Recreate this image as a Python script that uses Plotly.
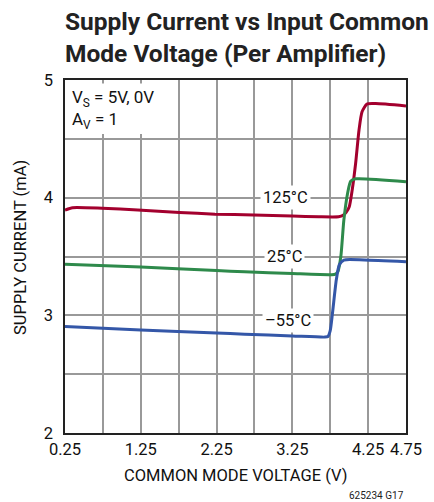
import plotly.graph_objects as go

# Data
red_x = [0.25, 0.35, 0.74, 1.21, 1.76, 2.23, 2.74, 3.25, 3.6, 3.86, 3.92, 3.96, 4.0, 4.04, 4.085, 4.13, 4.17, 4.235, 4.35, 4.75]
red_y = [3.895, 3.915, 3.91, 3.895, 3.875, 3.86, 3.853, 3.844, 3.838, 3.838, 3.85, 3.875, 3.92, 4.065, 4.29, 4.575, 4.73, 4.796, 4.80, 4.78]

green_x = [0.25, 1.25, 2.25, 2.62, 3.25, 3.77, 3.82, 3.85, 3.89, 3.93, 3.98, 4.02, 4.085, 4.75]
green_y = [3.435, 3.41, 3.38, 3.37, 3.355, 3.345, 3.35, 3.37, 3.50, 3.81, 4.04, 4.14, 4.16, 4.136]

blue_x = [0.25, 1.25, 2.25, 2.62, 3.25, 3.68, 3.72, 3.75, 3.78, 3.83, 3.87, 3.93, 4.2, 4.75]
blue_y = [2.905, 2.875, 2.85, 2.84, 2.825, 2.815, 2.82, 2.87, 3.02, 3.30, 3.43, 3.47, 3.47, 3.456]

series_names = ["125°C", "25°C", "–55°C"]
series_colors = ["#A3002E", "#2E8A4B", "#3457A8"]

x_tickvals = [0.25, 0.75, 1.25, 1.75, 2.25, 2.75, 3.25, 3.75, 4.25, 4.75]
x_ticktext = ["0.25", "", "1.25", "", "2.25", "", "3.25", "", "4.25", "4.75"]
y_tickvals = [2, 2.5, 3, 3.5, 4, 4.5, 5]
y_ticktext = ["2", "", "3", "", "4", "", "5"]

FONT = "Roboto, Liberation Sans, sans-serif"
TXT = "#111"

fig = go.Figure()
for xs, ys, name, col in zip([red_x, green_x, blue_x], [red_y, green_y, blue_y], series_names, series_colors):
    fig.add_trace(go.Scatter(x=xs, y=ys, mode="lines", name=name,
                             line=dict(color=col, width=3, shape="spline", smoothing=0.6),
                             showlegend=False, hoverinfo="skip"))

# curve labels
label_pos = [(3.16, 4.0), (3.14, 3.5), (3.19, 2.96)]
for (lx, ly), name in zip(label_pos, series_names):
    fig.add_annotation(x=lx, y=ly, xref="x", yref="y", text=name, showarrow=False,
                       font=dict(family=FONT, size=16.5, color=TXT),
                       bgcolor="white", borderpad=2)

# conditions box
fig.add_shape(type="rect", xref="paper", yref="paper", x0=0.003, x1=0.27, y0=0.847, y1=0.99,
              fillcolor="white", line=dict(width=0), layer="above")
fig.add_annotation(xref="paper", yref="paper", x=0.015, y=0.985, xanchor="left", yanchor="top",
                   text="V<sub>S</sub> = 5V, 0V<br>A<sub>V</sub> = 1", align="left", showarrow=False,
                   font=dict(family=FONT, size=17, color=TXT))

# title
fig.add_annotation(xref="paper", yref="paper", x=0.0, y=1.0, yanchor="bottom", xanchor="left",
                   yshift=10, xshift=-2,
                   text="<b>Supply Current vs Input Common<br>Mode Voltage (Per Amplifier)</b>",
                   align="left", showarrow=False,
                   font=dict(family=FONT, size=24.5, color="#222"))

# y axis title
fig.add_annotation(xref="paper", yref="paper", x=0, y=0.524, xanchor="center", yanchor="middle",
                   xshift=-45, textangle=-90, text="SUPPLY CURRENT (mA)", showarrow=False,
                   font=dict(family=FONT, size=16.5, color=TXT))

# x axis title
fig.add_annotation(xref="paper", yref="paper", x=0.5, y=-0.119, xanchor="center", yanchor="middle",
                   text="COMMON MODE VOLTAGE (V)", showarrow=False,
                   font=dict(family=FONT, size=16.5, color=TXT))

# footer
fig.add_annotation(xref="paper", yref="paper", x=1.0, y=0, xanchor="right", yanchor="top",
                   yshift=-55, text="625234 G17", showarrow=False,
                   font=dict(family=FONT, size=10, color="#222"))

fig.update_xaxes(range=[0.25, 4.75], tickvals=x_tickvals, ticktext=x_ticktext,
                 showgrid=True, gridcolor="#999", gridwidth=1.5,
                 showline=True, linecolor="#222", linewidth=1.5, mirror=True,
                 ticks="", zeroline=False, ticklabeloverflow="allow",
                 tickfont=dict(family=FONT, size=16.5, color=TXT))
fig.update_yaxes(range=[2, 5], tickvals=y_tickvals, ticktext=y_ticktext,
                 showgrid=True, gridcolor="#999", gridwidth=1.5,
                 showline=True, linecolor="#222", linewidth=1.5, mirror=True,
                 ticks="", zeroline=False, ticklabelstandoff=7,
                 tickfont=dict(family=FONT, size=16.5, color=TXT))

fig.update_layout(width=434, height=502, margin=dict(l=65, r=17, t=80, b=69),
                  plot_bgcolor="white", paper_bgcolor="white", hovermode=False)

fig.write_html("out.html", config={"displayModeBar": False},
               post_script="document.body.style.margin='0';")
